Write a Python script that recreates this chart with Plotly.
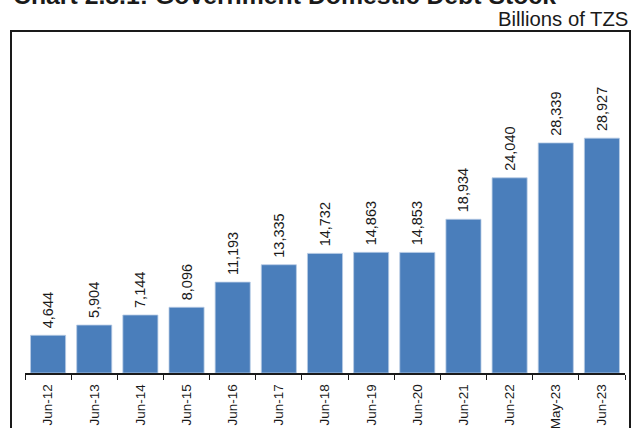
import plotly.graph_objects as go

categories = ["Jun-12", "Jun-13", "Jun-14", "Jun-15", "Jun-16", "Jun-17", "Jun-18",
              "Jun-19", "Jun-20", "Jun-21", "Jun-22", "May-23", "Jun-23"]
values = [4644, 5904, 7144, 8096, 11193, 13335, 14732, 14863, 14853, 18934, 24040, 28339, 28927]
labels = ["\u00a0" + f"{v:,}" for v in values]

W, H = 631, 428
ml, mr, mt, mb = 25, 6, 32, 55
pw = W - ml - mr
ph = H - mt - mb

def px_x(p):
    return (p - ml) / pw

def px_y(p):
    return (H - mb - p) / ph

fig = go.Figure(go.Bar(
    x=categories, y=values, text=labels, textposition="outside",
    textangle=-90, cliponaxis=False, constraintext="none",
    textfont=dict(family="Liberation Sans, Arial", size=14.5, color="#1a1a1a"),
    marker=dict(color="#4a7ebb", line=dict(color="#b8cce4", width=0.8)),
))

fig.update_layout(
    width=W, height=H,
    margin=dict(l=ml, r=mr, t=mt, b=mb, autoexpand=False),
    paper_bgcolor="white", plot_bgcolor="white",
    bargap=0.24, showlegend=False,
    font=dict(family="Liberation Sans, Arial", color="#1a1a1a"),
    xaxis=dict(showline=True, linecolor="#1a1a1a", linewidth=1.5,
               ticks="outside", tickson="boundaries", ticklen=5,
               tickcolor="#1a1a1a", tickangle=-90, ticklabelstandoff=4,
               automargin=False,
               tickfont=dict(size=13.5, color="#1a1a1a"), showgrid=False),
    yaxis=dict(range=[0, 42000], visible=False, showgrid=False, automargin=False),
    shapes=[dict(type="rect", xref="paper", yref="paper",
                 x0=px_x(11), x1=px_x(630), y0=px_y(450), y1=px_y(31),
                 line=dict(color="#1a1a1a", width=2), fillcolor="rgba(0,0,0,0)",
                 layer="below")],
    annotations=[
        dict(text="<b>Chart 2.8.1: Government Domestic Debt Stock</b>",
             xref="paper", yref="paper", x=px_x(11), y=px_y(-4.5),
             xanchor="left", yanchor="middle", showarrow=False,
             font=dict(size=24.8, color="#1a1a1a")),
        dict(text="Billions of TZS", xref="paper", yref="paper",
             x=px_x(630), y=px_y(19), xanchor="right", yanchor="middle",
             showarrow=False, font=dict(size=20.3, color="#1a1a1a")),
    ],
)

fig.write_html("out.html", config={"displayModeBar": False},
               post_script="document.body.style.margin='0px';document.body.style.overflow='hidden';")
